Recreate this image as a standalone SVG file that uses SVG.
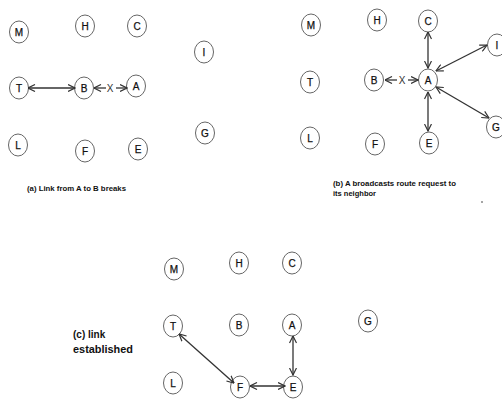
<svg xmlns="http://www.w3.org/2000/svg" width="502" height="401" viewBox="0 0 502 401">
<defs>
<style>
.n ellipse{fill:#fff;stroke:#666;stroke-width:1}
.n text{font-family:"Liberation Sans",Arial,sans-serif;font-size:10px;fill:#111;text-anchor:middle;stroke:#111;stroke-width:0.25}
.c line{stroke:#333;stroke-width:1.3;fill:none}
.cap{font-family:"Liberation Sans",Arial,sans-serif;font-weight:bold;fill:#111}
.x{font-family:"Liberation Sans",Arial,sans-serif;font-size:10px;fill:#333;text-anchor:middle}
</style>
<marker id="ah" viewBox="0 0 8 8" refX="7.5" refY="4" markerWidth="8" markerHeight="8" markerUnits="userSpaceOnUse" orient="auto-start-reverse">
<path d="M0.5,0.5 L7.5,4 L0.5,7.5" fill="none" stroke="#333" stroke-width="1.2"/>
</marker>
</defs>
<rect width="502" height="401" fill="#fff"/>

<!-- Panel (a) -->
<g id="a-M" class="n"><ellipse cx="19" cy="32" rx="9.5" ry="11"/><text x="19" y="35.5">M</text></g>
<g id="a-H" class="n"><ellipse cx="85" cy="26" rx="9.5" ry="11"/><text x="85" y="29.5">H</text></g>
<g id="a-C" class="n"><ellipse cx="137" cy="26" rx="9.5" ry="11"/><text x="137" y="29.5">C</text></g>
<g id="a-I" class="n"><ellipse cx="204" cy="52" rx="9.5" ry="11"/><text x="204" y="55.5">I</text></g>
<g id="a-T" class="n"><ellipse cx="19" cy="88" rx="9.5" ry="11"/><text x="19" y="91.5">T</text></g>
<g id="a-B" class="n"><ellipse cx="84" cy="88" rx="9.5" ry="11"/><text x="84" y="91.5">B</text></g>
<g id="a-A" class="n"><ellipse cx="136" cy="86" rx="9.5" ry="11"/><text x="136" y="89.5">A</text></g>
<g id="a-L" class="n"><ellipse cx="18" cy="145" rx="9.5" ry="11"/><text x="18" y="148.5">L</text></g>
<g id="a-F" class="n"><ellipse cx="85" cy="151" rx="9.5" ry="11"/><text x="85" y="154.5">F</text></g>
<g id="a-E" class="n"><ellipse cx="138" cy="149" rx="9.5" ry="11"/><text x="138" y="152.5">E</text></g>
<g id="a-G" class="n"><ellipse cx="205" cy="133" rx="9.5" ry="11"/><text x="205" y="136.5">G</text></g>
<text class="cap" x="27" y="190.5" font-size="6.5" textLength="99" lengthAdjust="spacingAndGlyphs">(a) Link from A to B breaks</text>

<!-- Panel (b) -->
<g id="b-M" class="n"><ellipse cx="311" cy="25" rx="9.5" ry="11"/><text x="311" y="28.5">M</text></g>
<g id="b-H" class="n"><ellipse cx="377" cy="20" rx="9.5" ry="11"/><text x="377" y="23.5">H</text></g>
<g id="b-C" class="n"><ellipse cx="428" cy="21" rx="9.5" ry="11"/><text x="428" y="24.5">C</text></g>
<g id="b-I" class="n"><ellipse cx="497" cy="45" rx="9.5" ry="11"/><text x="497" y="48.5">I</text></g>
<g id="b-T" class="n"><ellipse cx="310" cy="82" rx="9.5" ry="11"/><text x="310" y="85.5">T</text></g>
<g id="b-B" class="n"><ellipse cx="374" cy="80" rx="9.5" ry="11"/><text x="374" y="83.5">B</text></g>
<g id="b-A" class="n"><ellipse cx="428" cy="80" rx="9.5" ry="11"/><text x="428" y="83.5">A</text></g>
<g id="b-L" class="n"><ellipse cx="310" cy="138" rx="9.5" ry="11"/><text x="310" y="141.5">L</text></g>
<g id="b-F" class="n"><ellipse cx="375" cy="144" rx="9.5" ry="11"/><text x="375" y="147.5">F</text></g>
<g id="b-E" class="n"><ellipse cx="429" cy="143" rx="9.5" ry="11"/><text x="429" y="146.5">E</text></g>
<g id="b-G" class="n"><ellipse cx="496" cy="127" rx="9.5" ry="11"/><text x="496" y="130.5">G</text></g>
<text class="cap" x="333" y="185.5" font-size="6.5" textLength="123" lengthAdjust="spacingAndGlyphs">(b) A broadcasts route request to</text>
<text class="cap" x="333" y="195.5" font-size="6.5" textLength="43" lengthAdjust="spacingAndGlyphs">its neighbor</text>
<circle cx="482" cy="202" r="0.8" fill="#333"/>

<!-- Panel (c) -->
<g id="c-M" class="n"><ellipse cx="174" cy="269" rx="9.5" ry="11"/><text x="174" y="272.5">M</text></g>
<g id="c-H" class="n"><ellipse cx="239" cy="263" rx="9.5" ry="11"/><text x="239" y="266.5">H</text></g>
<g id="c-C" class="n"><ellipse cx="292" cy="263" rx="9.5" ry="11"/><text x="292" y="266.5">C</text></g>
<g id="c-T" class="n"><ellipse cx="173" cy="326" rx="9.5" ry="11"/><text x="173" y="329.5">T</text></g>
<g id="c-B" class="n"><ellipse cx="239" cy="325" rx="9.5" ry="11"/><text x="239" y="328.5">B</text></g>
<g id="c-A" class="n"><ellipse cx="292" cy="325" rx="9.5" ry="11"/><text x="292" y="328.5">A</text></g>
<g id="c-G" class="n"><ellipse cx="368" cy="321" rx="9.5" ry="11"/><text x="368" y="324.5">G</text></g>
<g id="c-L" class="n"><ellipse cx="173" cy="383" rx="9.5" ry="11"/><text x="173" y="386.5">L</text></g>
<g id="c-F" class="n"><ellipse cx="240" cy="387" rx="9.5" ry="11"/><text x="240" y="390.5">F</text></g>
<g id="c-E" class="n"><ellipse cx="293" cy="387" rx="9.5" ry="11"/><text x="293" y="390.5">E</text></g>
<text class="cap" x="73" y="338" font-size="10">(c) link</text>
<text class="cap" x="73" y="353" font-size="10" textLength="60" lengthAdjust="spacingAndGlyphs">established</text>

<!-- Connectors -->
<g id="connectors" class="c">
<line x1="28" y1="88" x2="75" y2="88" marker-start="url(#ah)" marker-end="url(#ah)"/>
<line x1="106" y1="88" x2="94" y2="88" marker-end="url(#ah)"/>
<line x1="116" y1="88" x2="127" y2="88" marker-end="url(#ah)"/>
<line x1="397" y1="80" x2="385" y2="80" marker-end="url(#ah)"/>
<line x1="408" y1="80" x2="418" y2="80" marker-end="url(#ah)"/>
<line x1="428" y1="32" x2="428" y2="68" marker-start="url(#ah)" marker-end="url(#ah)"/>
<line x1="436" y1="71" x2="487" y2="45" marker-start="url(#ah)" marker-end="url(#ah)"/>
<line x1="436" y1="87" x2="489" y2="118" marker-start="url(#ah)" marker-end="url(#ah)"/>
<line x1="428" y1="92" x2="428" y2="131" marker-start="url(#ah)" marker-end="url(#ah)"/>
<line x1="179" y1="334" x2="234" y2="383" marker-start="url(#ah)" marker-end="url(#ah)"/>
<line x1="250" y1="386" x2="285" y2="386" marker-start="url(#ah)" marker-end="url(#ah)"/>
<line x1="293" y1="336" x2="293" y2="375" marker-start="url(#ah)" marker-end="url(#ah)"/>
</g>
<text class="x" x="110" y="91.5">X</text>
<text class="x" x="402" y="83.5">X</text>
</svg>
